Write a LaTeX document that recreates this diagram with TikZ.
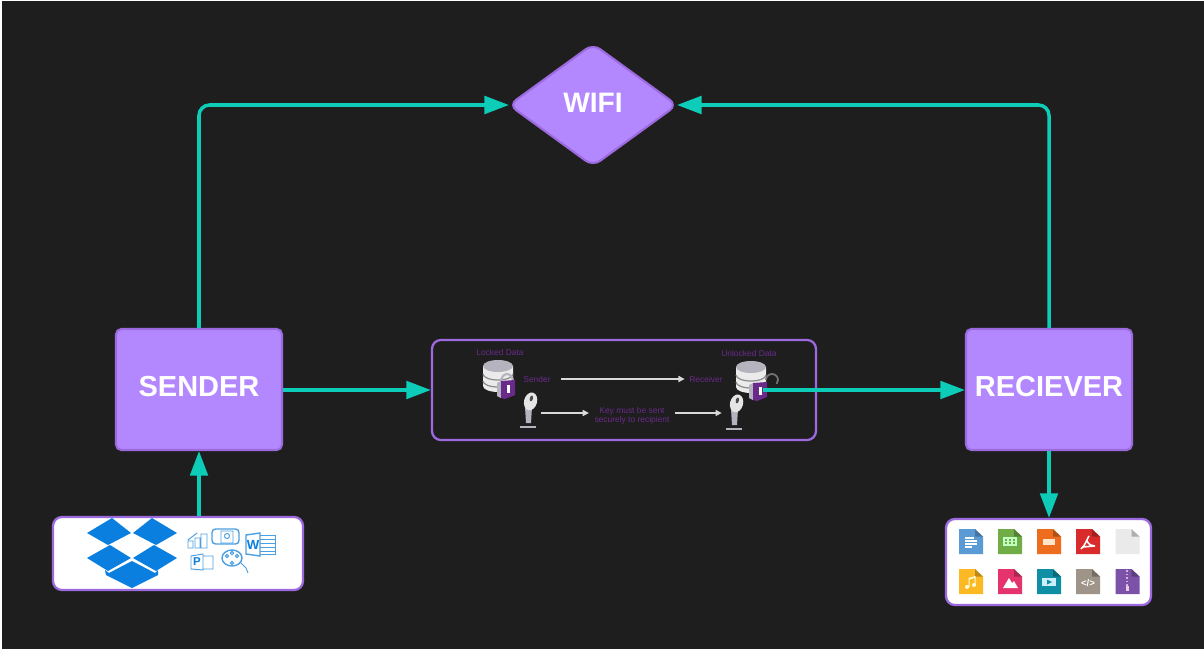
\documentclass[tikz,border=0pt]{standalone}
\usepackage{fontspec}
\setmainfont{Liberation Sans}
\usepackage{xcolor}
\usetikzlibrary{arrows.meta,shapes.geometric}
\definecolor{cBack}{HTML}{1E1E1E}
\definecolor{cFill}{HTML}{B388FF}
\definecolor{cEdge}{HTML}{9C6ADE}
\definecolor{cTeal}{HTML}{0DCDB9}
\definecolor{cDim}{HTML}{6A2A8A}
\definecolor{cDrop}{HTML}{0A7FE0}
\definecolor{cThin}{HTML}{4C9FE0}
\definecolor{cGrey}{HTML}{B4B3BE}
\definecolor{cVideo}{HTML}{0F8FA3}
\tikzset{
  pbox/.style={draw=cEdge,fill=cFill,rounded corners=3pt,line width=1.2pt,minimum width=3.32cm,minimum height=2.42cm,align=center,text=white,text depth=3.4pt,font=\fontsize{16.5}{19}\selectfont\bfseries},
  pdia/.style={diamond,draw=cEdge,fill=cFill,rounded corners=5pt,line width=1.2pt,minimum width=3.36cm,minimum height=2.44cm,outer sep=0pt,inner sep=0pt,text=white,text depth=2pt,font=\fontsize{16}{19}\selectfont\bfseries},
  wbox/.style={draw=cEdge,fill=white,rounded corners=5pt,line width=1.3pt},
  dbox/.style={draw=cEdge,rounded corners=5pt,line width=1.3pt,minimum width=7.68cm,minimum height=2cm},
  arr/.style={-{Triangle[length=14pt,width=10pt]},line width=2pt,color=cTeal,rounded corners=6pt},
  warr/.style={-{Triangle[length=3.5pt,width=3.5pt]},line width=0.6pt,color=white!85!black},
  lbl/.style={text=cDim,font=\fontsize{4.8}{5.2}\selectfont,align=center,inner sep=0pt},
  thin/.style={draw=cThin,line width=0.55pt},
  ficon/.pic={
    \fill[pic actions] (-12,-12.5) -- (4,-12.5) -- (12,-5) -- (12,12.5) -- (-12,12.5) -- cycle;
    \fill[black,opacity=.25] (4,-12.5) -- (12,-5) -- (4,-5) -- cycle;
  },
  dbicon/.pic={
    \fill[white!92!black] (-15,-10) -- (-15,10) arc[x radius=15,y radius=6,start angle=180,end angle=0] -- (15,-10) -- cycle;
    \fill[cGrey] (0,-10) ellipse[x radius=15,y radius=6];
    \draw[black!45,line width=.7pt] (-15,-2) arc[x radius=15,y radius=6,start angle=180,end angle=0];
    \draw[black!45,line width=.7pt] (-15,5) arc[x radius=15,y radius=6,start angle=180,end angle=0];
  },
  lockicon/.pic={
    \fill[cGrey] (-11,-6) -- (-7,-8) -- (-7,9) -- (-11,7) -- cycle;
    \fill[cDim] (-7,-8) -- (7,-9) -- (7,6) -- (-3,10) -- (-7,9) -- cycle;
    \fill[white] (-1,-4) rectangle (2,4);
  },
  keyicon/.pic={
    \fill[cGrey] (-3,-4) -- (4,-4) -- (3,12) -- (-2,12) -- cycle;
    \fill[white!90!black,rotate=-15] (0,-10) ellipse[x radius=6.5,y radius=9];
    \fill[black!70,rotate=-15] (0,-13) ellipse[x radius=1.6,y radius=3];
    \fill[cGrey] (-8,15) rectangle (8,17);
  },
}
\begin{document}
\begin{tikzpicture}[x=0.02cm,y=-0.02cm]
  \fill[white] (0,0) rectangle (1204,649);
  \fill[cBack] (2,1) rectangle (1204,649);
  \useasboundingbox (0,0) rectangle (1204,649);
  % main blocks
  \node[pbox] (sender) at (199,389.5) {SENDER};
  \node[pbox] (receiver) at (1049,389.5) {RECIEVER};
  \node[pdia] (wifi) at (593,105) {WIFI};
  \node[dbox] (cipher) at (624,390) {};
  \node[wbox,minimum width=5cm,minimum height=1.46cm] (dropbox) at (178,553.5) {};
  \node[wbox,minimum width=4.1cm,minimum height=1.72cm] (files) at (1048.5,562) {};
  % inside the cipher block
  \pic at (498,376) {dbicon};
  \draw[cGrey,line width=1.2pt] (501,382) arc[x radius=6,y radius=8,start angle=180,end angle=360];
  \pic at (508,389) {lockicon};
  \pic at (528,411) {keyicon};
  \pic at (751,377) {dbicon};
  \draw[black!55,line width=1pt] (766,380) arc[x radius=6,y radius=6,start angle=180,end angle=400];
  \pic at (760,391) {lockicon};
  \pic at (734,413) {keyicon};
  \node[lbl] (locked) at (500,352) {Locked Data};
  \node[lbl] (unlocked) at (749,353) {Unlocked Data};
  \node[lbl] (sendlbl) at (537,379) {Sender};
  \node[lbl] (recvlbl) at (706,379) {Receiver};
  \node[lbl] (keymsg) at (632,415.5) {Key must be sent\\securely to recipient};
  \node[minimum width=0.52cm,inner sep=0pt] (keyl) at (528,413) {};
  \node[minimum width=0.44cm,inner sep=0pt] (keyr) at (733,413) {};
  \coordinate (unlockpt) at (763,390);
  \draw[warr,shorten <=6pt,shorten >=2.5pt] (sendlbl.east) -- (recvlbl.west);
  \draw[warr,shorten >=3pt] (keyl.east) -- (keyl.east -| keymsg.west);
  \draw[warr,shorten <=3pt] (keyr.west -| keymsg.east) -- (keyr.west);
  % dropbox logo
  \fill[cDrop] (87,533) -- (112,518) -- (131,533) -- (108,545) -- cycle;
  \fill[cDrop] (177,533) -- (152,518) -- (133,533) -- (156,545) -- cycle;
  \fill[cDrop] (87,558) -- (110,545) -- (131,558) -- (108,571) -- cycle;
  \fill[cDrop] (177,558) -- (154,545) -- (133,558) -- (156,571) -- cycle;
  \fill[cDrop] (105,570) -- (106,575) -- (132,588) -- (158,575) -- (158,570) -- (155,573) -- (132,561) -- (109,573) -- cycle;
  % office icons
  \draw[thin] (188,548) rectangle (193,541) (195,548) rectangle (200,538) (201,548) rectangle (207,534) (188,540) -- (197,533);
  \draw[thin,rounded corners=2pt,line width=.8pt] (212,529) rectangle (239,544);
  \draw[thin] (221,531) rectangle (233,543) (227,536) circle[radius=2.5];
  \draw[thin,line width=.8pt] (246,535) -- (260,533) -- (260,556) -- (246,554) -- cycle;
  \draw[thin] (260,535) -- (275,535) -- (275,554) -- (260,554) (260,539) -- (275,539) (260,543) -- (275,543) (260,547) -- (275,547) (260,551) -- (275,551);
  \node[text=cDrop,font=\fontsize{7.5}{8}\selectfont\bfseries,inner sep=0pt] (wordmark) at (253,545) {W};
  \draw[thin] (191,556) -- (203,554) -- (203,570) -- (191,569) -- cycle (203,556) -- (213,556) -- (213,569) -- (203,569);
  \node[text=cDrop,font=\fontsize{6.5}{7}\selectfont\bfseries,inner sep=0pt] (pptmark) at (197,562) {P};
  \draw[thin,line width=.8pt] (232,558) ellipse[x radius=10,y radius=8];
  \draw[thin] (227,556) circle[radius=1.6] (237,556) circle[radius=1.6] (232,553) circle[radius=1.6] (232,563) circle[radius=1.6] (240,562) -- (246,568) -- (248,573);
  % file icons
  \foreach \fx/\fy/\fc in {971/541.5/5B9BD5,1010/541.5/70AD47,1049/541.5/ED6C1E,1088/541.5/D92B2B,1127.5/541.5/EAEAEA,
    971/581.5/FDB924,1010/581.5/E5336D,1049/581.5/0F8FA3,1088/581.5/9E9488,1127.5/581.5/7B52A8}{
    \definecolor{cIcon}{HTML}{\fc}
    \pic[fill=cIcon] at (\fx,\fy) {ficon};
  }
  \draw[white,line width=.8pt] (965,538) -- (974,538) (965,541) -- (977,541) (965,544) -- (977,544) (965,547) -- (972,547);
  \draw[white!75!green,line width=.6pt] (1004,538) rectangle (1016,545) (1008,538) -- (1008,545) (1012,538) -- (1012,545) (1004,541.5) -- (1016,541.5);
  \fill[white!80!orange] (1043,539) rectangle (1055,545);
  \draw[white,line width=.9pt] (1089,536) .. controls (1086,541) and (1086,544) .. (1081,549) (1087,541) .. controls (1089,545) and (1092,546) .. (1095,546) (1083,547) -- (1094,546);
  \fill[white!85!yellow] (967,587) circle[radius=2] (974,585) circle[radius=2] (968.5,587) -- (968.5,578) -- (975.5,576) -- (975.5,585) -- (974.5,585) -- (974.5,578) -- (969.5,579.5) -- (969.5,587) -- cycle;
  \fill[white] (1003,588) -- (1009,578) -- (1012,583) -- (1014,581) -- (1018,588) -- cycle;
  \fill[white!80!cyan] (1042,578) rectangle (1056,586);
  \fill[cVideo] (1047,579.5) -- (1052,582) -- (1047,584.5) -- cycle;
  \node[text=white,font=\fontsize{5.5}{6}\selectfont\bfseries,inner sep=0pt] (codemark) at (1088,583) {</>};
  \draw[white!70!violet,line width=1pt,dash pattern=on 1pt off 1pt] (1127,570) -- (1127,586);
  \fill[white!80!violet] (1125.5,586) rectangle (1128.5,591);
  % connectors
  \draw[arr] (sender.north) |- (wifi.west);
  \draw[arr] (receiver.north) |- (wifi.east);
  \draw[arr] (sender.east |- cipher.west) -- (cipher.west);
  \draw[arr] (unlockpt) -- (unlockpt -| receiver.west);
  \draw[arr] (sender.south |- dropbox.north) -- (sender.south);
  \draw[arr] (receiver.south) -- (receiver.south |- files.north);
\end{tikzpicture}
\end{document}
